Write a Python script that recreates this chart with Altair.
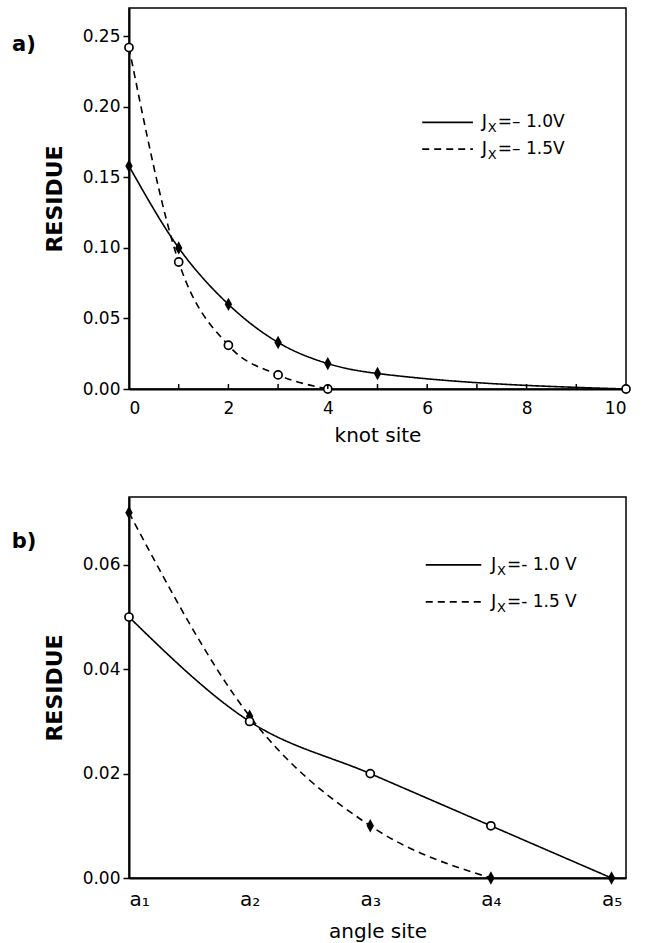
import altair as alt
import pandas as pd

FONT = "DejaVu Sans"
DIAMOND = "M0,-1L0.55,0L0,1L-0.55,0Z"

# ---------------- panel a data ----------------
a_series_names = ["-1.0V", "-1.5V"]
a_solid_x = [0, 1, 2, 3, 4, 5, 10]
a_solid_y = [0.158, 0.100, 0.060, 0.033, 0.018, 0.011, 0.000]
a_solid_marker = ["diamond", "diamond", "diamond", "diamond", "diamond", "diamond", "circle"]
a_dash_x = [0, 1, 2, 3, 4]
a_dash_y = [0.242, 0.090, 0.031, 0.010, 0.000]
a_dash_marker = ["circle", "circle", "circle", "circle", "circle"]
a_yticks = [0.0, 0.05, 0.10, 0.15, 0.20, 0.25]
a_xlabels = [0, 2, 4, 6, 8, 10]
a_minor_ticks = [1, 2, 3, 4, 5, 6, 7, 8, 9]
a_legend_x1 = [5.90, 5.90]
a_legend_x2 = [6.92, 6.92]
a_legend_y = [0.189, 0.170]
a_legend_textx = [7.10, 7.10]
a_legend_rest = ["=– 1.0V", "=– 1.5V"]

# ---------------- panel b data ----------------
b_series_names = ["-1.0 V", "-1.5 V"]
b_solid_x = [1, 2, 3, 4, 5]
b_solid_y = [0.050, 0.030, 0.020, 0.010, 0.000]
b_solid_marker = ["circle", "circle", "circle", "circle", "diamond"]
b_dash_x = [1, 2, 3, 4]
b_dash_y = [0.070, 0.031, 0.010, 0.000]
b_dash_marker = ["diamond", "diamond", "diamond", "diamond"]
b_yticks = [0.0, 0.02, 0.04, 0.06]
b_xticks = [1, 2, 3, 4, 5]
b_xlabels = ["a₁", "a₂", "a₃", "a₄", "a₅"]
b_legend_x1 = [3.46, 3.46]
b_legend_x2 = [3.92, 3.92]
b_legend_y = [0.060, 0.0529]
b_legend_textx = [4.0, 4.0]
b_legend_rest = ["=- 1.0 V", "=- 1.5 V"]

W = 497
H = 381


def make_panel(names, sx, sy, sm, dx_, dy_, dm, xdom, ydom, xscale_axis, yticks,
               lx1, lx2, ly, ltx, lrest, panel_label, label_y, xtitle, minor=None):
    lines = pd.DataFrame({
        "x": sx + dx_,
        "y": sy + dy_,
        "series": [names[0]] * len(sx) + [names[1]] * len(dx_),
        "marker": sm + dm,
    })
    leg = pd.DataFrame({"x1": lx1, "x2": lx2, "y": ly, "tx": ltx,
                        "rest": lrest, "series": names, "J": ["J", "J"], "X": ["X", "X"]})

    xs = alt.Scale(domain=xdom, nice=False, zero=False)
    ys = alt.Scale(domain=ydom, nice=False)
    dash = alt.StrokeDash("series:N", scale=alt.Scale(domain=names, range=[[1, 0], [7, 5]]),
                          legend=None)

    yaxis = alt.Axis(values=yticks, format=".2f", title="RESIDUE", titleFont=FONT,
                     titleFontSize=22, titleFontWeight="bold", titlePadding=16,
                     tickSize=6, tickWidth=1.5, labelPadding=3)

    base = alt.Chart(lines)
    line = base.mark_line(interpolate="monotone", color="black", strokeWidth=1.6).encode(
        x=alt.X("x:Q", scale=xs, axis=xscale_axis, title=xtitle),
        y=alt.Y("y:Q", scale=ys, axis=yaxis),
        strokeDash=dash,
    )
    dia = base.transform_filter(alt.datum.marker == "diamond").mark_point(
        shape=DIAMOND, filled=True, color="black", size=180, opacity=1).encode(
        x="x:Q", y="y:Q")
    circ = base.transform_filter(alt.datum.marker == "circle").mark_point(
        shape="circle", filled=True, fill="white", stroke="black", strokeWidth=1.7,
        size=65, opacity=1).encode(x="x:Q", y="y:Q")

    lb = alt.Chart(leg)
    lrule = lb.mark_rule(color="black", strokeWidth=1.8).encode(
        x="x1:Q", x2="x2:Q", y="y:Q", strokeDash=dash)
    tj = lb.mark_text(align="left", baseline="middle", font=FONT, fontSize=18,
                      color="black").encode(x="tx:Q", y="y:Q", text="J:N")
    tx = lb.mark_text(align="left", baseline="middle", font=FONT, fontSize=13,
                      color="black", dx=6, dy=6).encode(x="tx:Q", y="y:Q", text="X:N")
    tr = lb.mark_text(align="left", baseline="middle", font=FONT, fontSize=17,
                      color="black", dx=16).encode(x="tx:Q", y="y:Q", text="rest:N")

    plab = alt.Chart(pd.DataFrame({"y": [label_y], "t": [panel_label]})).mark_text(
        font=FONT, fontSize=21, fontWeight="bold", color="black", align="center",
        baseline="middle").encode(x=alt.value(-105), y="y:Q", text="t:N")

    layers = [line, dia, circ, lrule, tj, tx, tr, plab]
    if minor is not None:
        mt = pd.DataFrame({"x": minor, "y0": [0.0] * len(minor),
                           "y1": [0.0035] * len(minor)})
        mrule = alt.Chart(mt).mark_rule(color="black", strokeWidth=1.5).encode(
            x="x:Q", y="y0:Q", y2="y1:Q")
        layers.append(mrule)
    return alt.layer(*layers).properties(width=W, height=H)


a_xaxis = alt.Axis(values=a_xlabels, format="d", ticks=False, labelPadding=11,
                   titleFont=FONT, titleFontSize=20, titleFontWeight="normal",
                   titlePadding=9)
label_expr = "[" + ",".join("'%s'" % s for s in b_xlabels) + "][datum.value - 1]"
b_xaxis = alt.Axis(values=b_xticks, labelExpr=label_expr, ticks=False, labelPadding=11,
                   labelFontSize=20, titleFont=FONT, titleFontSize=20,
                   titleFontWeight="normal", titlePadding=12)

pa = make_panel(a_series_names, a_solid_x, a_solid_y, a_solid_marker,
                a_dash_x, a_dash_y, a_dash_marker, [0, 10], [0, 0.27], a_xaxis,
                a_yticks, a_legend_x1, a_legend_x2, a_legend_y, a_legend_textx,
                a_legend_rest, "a)", 0.244, "knot site", minor=a_minor_ticks)
pb = make_panel(b_series_names, b_solid_x, b_solid_y, b_solid_marker,
                b_dash_x, b_dash_y, b_dash_marker, [1, 5.12], [0, 0.073], b_xaxis,
                b_yticks, b_legend_x1, b_legend_x2, b_legend_y, b_legend_textx,
                b_legend_rest, "b)", 0.0644, "angle site")

chart = alt.vconcat(pa, pb, spacing=50).properties(
    padding={"left": 10, "top": 7, "right": 5, "bottom": 2},
    background="white",
).configure_view(stroke="black", strokeWidth=1.5).configure_axis(
    domainColor="black", domainWidth=2, tickColor="black", labelColor="black",
    titleColor="black", labelFont=FONT, labelFontSize=17, grid=False,
)

chart.save("out.html", embed_options={"renderer": "svg", "actions": False})
